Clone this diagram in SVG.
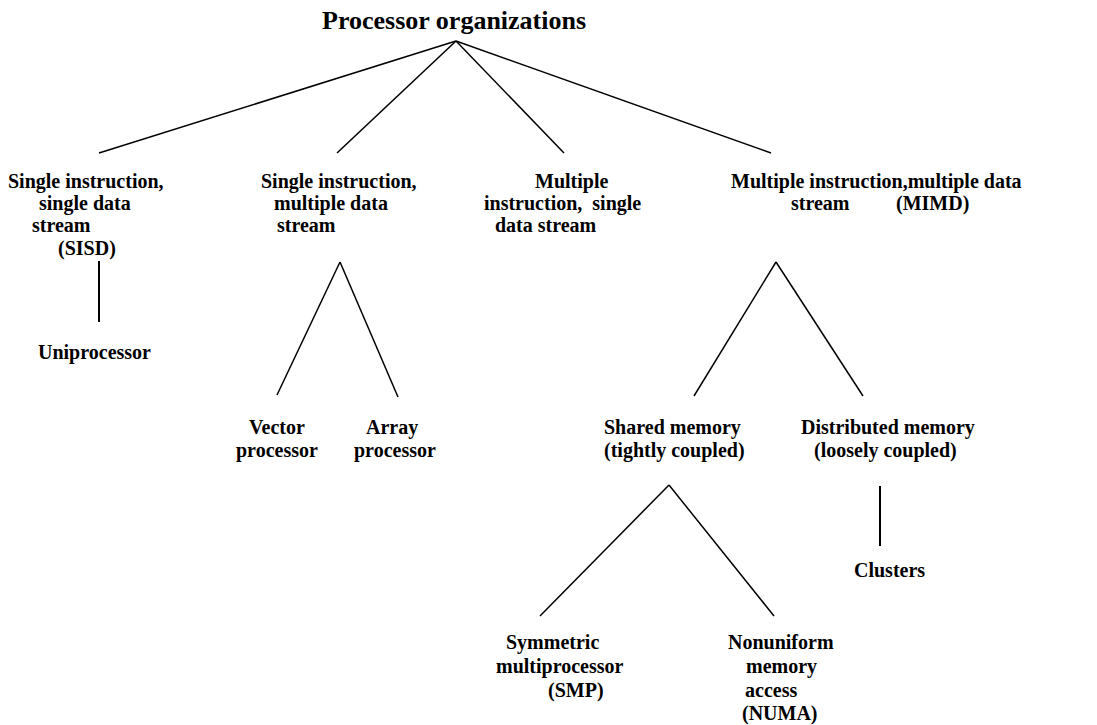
<svg xmlns="http://www.w3.org/2000/svg" width="1097" height="725" viewBox="0 0 1097 725">
<style>
text{font-family:"Liberation Serif","Times New Roman",serif;font-weight:bold;font-size:20px;fill:#000}
.title{font-size:26px}
.c line{stroke:#000;stroke-width:1.5;fill:none}
.c line.v{stroke-width:2}
</style>
<rect width="1097" height="725" fill="#fff"/>
<g class="c" id="connectors">
<line x1="456" y1="41" x2="99" y2="153"/>
<line x1="456" y1="41" x2="337" y2="153"/>
<line x1="456" y1="41" x2="564" y2="153"/>
<line x1="456" y1="41" x2="771" y2="153"/>
<line class="v" x1="99" y1="261" x2="99" y2="322"/>
<line x1="340" y1="262" x2="277" y2="395"/>
<line x1="340" y1="262" x2="398" y2="397"/>
<line x1="776" y1="262" x2="694" y2="396"/>
<line x1="776" y1="262" x2="863" y2="396"/>
<line x1="669" y1="485" x2="540" y2="616"/>
<line x1="669" y1="485" x2="774" y2="616"/>
<line class="v" x1="880" y1="486" x2="880" y2="546"/>
</g>
<g id="root"><text class="title" x="322" y="29">Processor organizations</text></g>
<g id="sisd">
<text x="8" y="188">Single instruction,</text>
<text x="39" y="210">single data</text>
<text x="32" y="232">stream</text>
<text x="58" y="255">(SISD)</text>
</g>
<g id="uniprocessor"><text x="38" y="359">Uniprocessor</text></g>
<g id="simd">
<text x="261" y="188">Single instruction,</text>
<text x="274" y="210">multiple data</text>
<text x="277" y="232">stream</text>
</g>
<g id="vector"><text x="249" y="434">Vector</text><text x="236" y="457">processor</text></g>
<g id="array"><text x="366" y="434">Array</text><text x="354" y="457">processor</text></g>
<g id="misd">
<text x="535" y="188">Multiple</text>
<text x="484" y="210" xml:space="preserve">instruction,  single</text>
<text x="495" y="232">data stream</text>
</g>
<g id="mimd">
<text x="731" y="188">Multiple instruction,multiple data</text>
<text x="791" y="210">stream</text>
<text x="896" y="210">(MIMD)</text>
</g>
<g id="shared"><text x="604" y="434">Shared memory</text><text x="604" y="457">(tightly coupled)</text></g>
<g id="distributed"><text x="801" y="434">Distributed memory</text><text x="814" y="457">(loosely coupled)</text></g>
<g id="clusters"><text x="854" y="577">Clusters</text></g>
<g id="smp">
<text x="506" y="649">Symmetric</text>
<text x="496" y="673">multiprocessor</text>
<text x="548" y="697">(SMP)</text>
</g>
<g id="numa">
<text x="728" y="649">Nonuniform</text>
<text x="746" y="673">memory</text>
<text x="745" y="697">access</text>
<text x="742" y="720">(NUMA)</text>
</g>
</svg>
